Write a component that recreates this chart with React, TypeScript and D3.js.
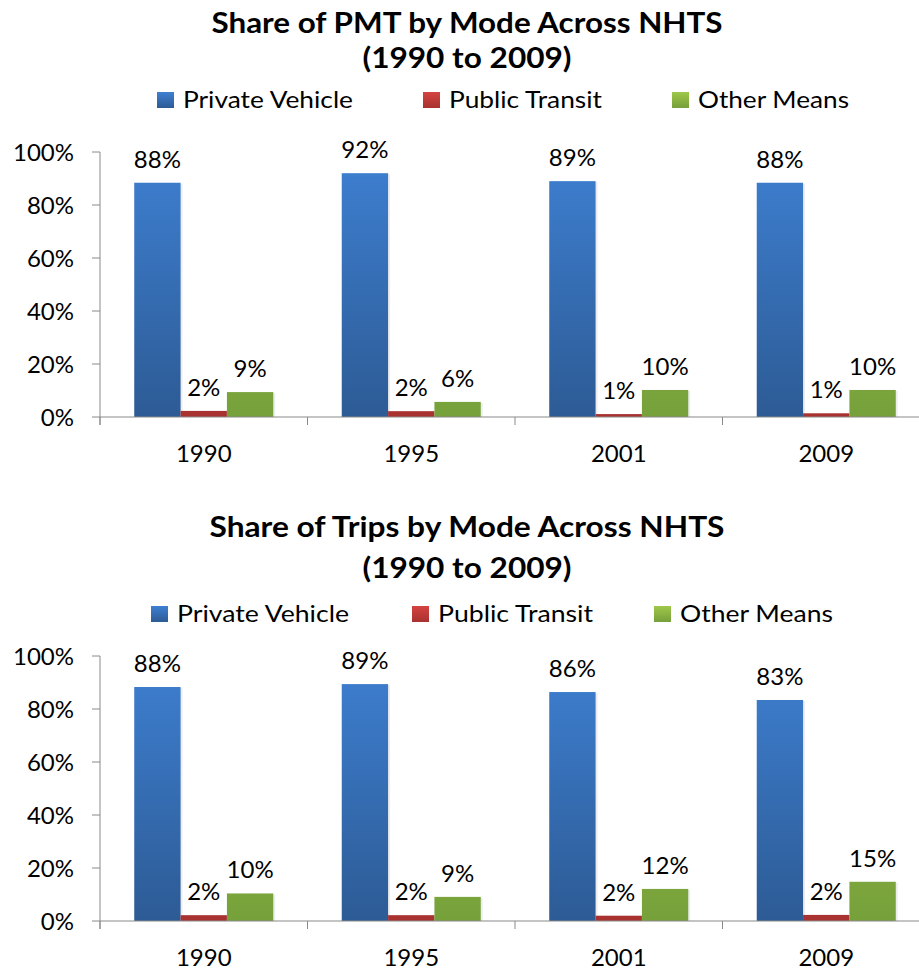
import React from 'react';
import * as d3 from 'd3';

const years = ['1990', '1995', '2001', '2009'];
const modes = ['Private Vehicle', 'Public Transit', 'Other Means'];
const pmtPrivate = [88.4, 92.0, 89.0, 88.4];
const pmtTransit = [2.3, 2.2, 1.1, 1.4];
const pmtOther = [9.4, 5.7, 10.2, 10.2];
const tripsPrivate = [88.3, 89.4, 86.4, 83.4];
const tripsTransit = [2.2, 2.2, 2.0, 2.3];
const tripsOther = [10.4, 9.1, 12.1, 14.8];
const yTicks = [0, 20, 40, 60, 80, 100];

const FONT = 'Lato, "Open Sans", sans-serif';
const AXIS = '#8a8a8a';
const gradStops = [
  ['#3e80d2', '#2d5b95'],
  ['#d44340', '#a83230'],
  ['#9fc84b', '#76a03a'],
];

type Layout = {
  id: string;
  title1: string;
  title2: string;
  t1: number;
  t2: number;
  t1Len: number;
  t2Len: number;
  legendY: number;
  legendX: number[];
  legendLen: number[];
  plotTop: number;
  plotBottom: number;
};

function Chart({ layout, series }: { layout: Layout; series: number[][] }) {
  const x0 = d3.scaleBand<string>().domain(years).range([100, 930]).paddingInner(0.33).paddingOuter(0.165);
  const x1 = d3.scaleBand<string>().domain(modes).range([0, x0.bandwidth()]);
  const y = d3.scaleLinear().domain([0, 100]).range([layout.plotBottom, layout.plotTop]);
  const step = x0.step();
  const catTicks = d3.range(years.length + 1).map((i) => 100 + i * step);
  return (
    <g>
      <text x={467 - layout.t1Len / 2} y={layout.t1} textLength={layout.t1Len} lengthAdjust="spacingAndGlyphs" fontFamily={FONT} fontWeight="bold" fontSize={29} fill="#000">
        {layout.title1}
      </text>
      <text x={467 - layout.t2Len / 2} y={layout.t2} textLength={layout.t2Len} lengthAdjust="spacingAndGlyphs" fontFamily={FONT} fontWeight="bold" fontSize={29} fill="#000">
        {layout.title2}
      </text>
      {modes.map((m, i) => (
        <g key={m}>
          <rect x={layout.legendX[i]} y={layout.legendY - 16} width={17} height={16} fill={`url(#${layout.id}-g${i})`} />
          <text x={layout.legendX[i] + 26} y={layout.legendY} textLength={layout.legendLen[i]} lengthAdjust="spacingAndGlyphs" fontFamily={FONT} fontSize={22.5} fill="#000">
            {m}
          </text>
        </g>
      ))}
      {yTicks.map((t) => (
        <g key={t}>
          <line x1={92} x2={100} y1={y(t)} y2={y(t)} stroke={AXIS} strokeWidth={1} />
          <text x={74} y={y(t) + 8.5} textAnchor="end" fontFamily={FONT} fontSize={24} fill="#000">
            {t}%
          </text>
        </g>
      ))}
      {years.map((yr, ci) => (
        <g key={yr}>
          {modes.map((m, si) => {
            const v = series[si][ci];
            const bx = (x0(yr) as number) + (x1(m) as number);
            const bw = x1.bandwidth();
            return (
              <g key={m}>
                <rect x={bx + 2} y={y(v) + 1} width={bw} height={layout.plotBottom - y(v) - 1} fill="#000" opacity={0.07} />
                <rect x={bx} y={y(v)} width={bw} height={layout.plotBottom - y(v)} fill={`url(#${layout.id}-b${si})`} />
                <text x={bx + bw / 2} y={y(v) - 15} textAnchor="middle" fontFamily={FONT} fontSize={24} fill="#000">
                  {Math.round(v)}%
                </text>
              </g>
            );
          })}
          <text x={(x0(yr) as number) + x0.bandwidth() / 2} y={layout.plotBottom + 45} textAnchor="middle" fontFamily={FONT} fontSize={24} fill="#000">
            {yr}
          </text>
        </g>
      ))}
      <line x1={100} x2={100} y1={layout.plotTop} y2={layout.plotBottom + 8} stroke={AXIS} strokeWidth={1} />
      <line x1={100} x2={930} y1={layout.plotBottom} y2={layout.plotBottom} stroke={AXIS} strokeWidth={1.2} />
      {catTicks.map((cx, i) => (
        <line key={i} x1={cx} x2={cx} y1={layout.plotBottom} y2={layout.plotBottom + 8} stroke={AXIS} strokeWidth={1} />
      ))}
    </g>
  );
}

const layouts: Layout[] = [
  {
    id: 'pmt',
    title1: 'Share of PMT by Mode Across NHTS',
    title2: '(1990 to 2009)',
    t1: 33,
    t2: 68,
    t1Len: 511,
    t2Len: 209,
    legendY: 108,
    legendX: [157, 423, 672],
    legendLen: [170, 153, 151],
    plotTop: 152,
    plotBottom: 417,
  },
  {
    id: 'trips',
    title1: 'Share of Trips by Mode Across NHTS',
    title2: '(1990 to 2009)',
    t1: 537,
    t2: 578,
    t1Len: 515,
    t2Len: 209,
    legendY: 622,
    legendX: [151, 412, 654],
    legendLen: [172, 155, 153],
    plotTop: 656,
    plotBottom: 921,
  },
];

export default function App() {
  const data = [
    [pmtPrivate, pmtTransit, pmtOther],
    [tripsPrivate, tripsTransit, tripsOther],
  ];
  return (
    <svg width={919} height={972} style={{ position: 'absolute', left: 0, top: 0, background: '#fff' }}>
      <defs>
        {layouts.map((l) =>
          gradStops.map((g, i) => (
            <React.Fragment key={l.id + i}>
              <linearGradient id={`${l.id}-b${i}`} gradientUnits="userSpaceOnUse" x1={0} x2={0} y1={l.plotTop} y2={l.plotBottom}>
                <stop offset="0" stopColor={g[0]} />
                <stop offset="1" stopColor={g[1]} />
              </linearGradient>
              <linearGradient id={`${l.id}-g${i}`} x1={0} x2={0} y1={0} y2={1}>
                <stop offset="0" stopColor={g[0]} />
                <stop offset="1" stopColor={g[1]} />
              </linearGradient>
            </React.Fragment>
          ))
        )}
      </defs>
      <rect width={919} height={972} fill="#fff" />
      {layouts.map((l, i) => (
        <Chart key={l.id} layout={l} series={data[i]} />
      ))}
    </svg>
  );
}
